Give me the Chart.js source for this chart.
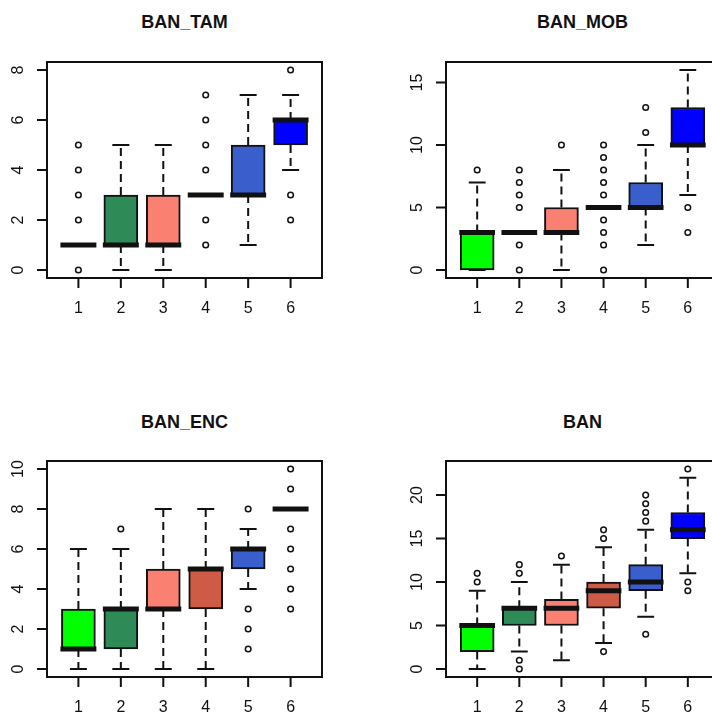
<!DOCTYPE html>
<html>
<head>
<meta charset="utf-8">
<script src="https://cdn.jsdelivr.net/npm/chart.js@4"></script>
<style>
  html, body { margin: 0; padding: 0; background: #fff; overflow: hidden; }
  body { width: 712px; height: 719px; position: relative; }
  canvas { position: absolute; }
  .title {
    position: absolute; text-align: center; color: #111;
    font: bold 18px "Liberation Sans", Arial, sans-serif; line-height: 20px;
  }
</style>
</head>
<body>
<div class="title" style="left:47px;top:12px;width:275px">BAN_TAM</div>
<div class="title" style="left:446px;top:12px;width:273px">BAN_MOB</div>
<div class="title" style="left:47px;top:412px;width:275px">BAN_ENC</div>
<div class="title" style="left:446px;top:412px;width:273px">BAN</div>
<canvas id="tam" width="360" height="360" style="left:0;top:0"></canvas>
<canvas id="mob" width="360" height="360" style="left:399px;top:0"></canvas>
<canvas id="enc" width="360" height="360" style="left:0;top:399px"></canvas>
<canvas id="ban" width="360" height="360" style="left:399px;top:399px"></canvas>
<script>
// groups and box colours (same in every panel)
const groups = ['1', '2', '3', '4', '5', '6'];
const boxColors = ['#00FF00', '#2E8B57', '#FA8072', '#CD5B45', '#3A5FCD', '#0000FF'];

// BAN_TAM
const tamLow  = [1, 0, 0, 3, 1, 4];
const tamQ1   = [1, 1, 1, 3, 3, 5];
const tamMed  = [1, 1, 1, 3, 3, 6];
const tamQ3   = [1, 3, 3, 3, 5, 6];
const tamHigh = [1, 5, 5, 3, 7, 7];
const tamOut  = [[0, 2, 3, 4, 5], [], [], [1, 2, 4, 5, 6, 7], [], [2, 3, 8]];
const tamTicks = [0, 2, 4, 6, 8];

// BAN_MOB
const mobLow  = [0, 3, 0, 5, 2, 6];
const mobQ1   = [0, 3, 3, 5, 5, 10];
const mobMed  = [3, 3, 3, 5, 5, 10];
const mobQ3   = [3, 3, 5, 5, 7, 13];
const mobHigh = [7, 3, 8, 5, 10, 16];
const mobOut  = [[8], [0, 2, 5, 6, 7, 8], [10], [0, 2, 3, 4, 6, 7, 8, 9, 10], [11, 13], [3, 5]];
const mobTicks = [0, 5, 10, 15];

// BAN_ENC
const encLow  = [0, 0, 0, 0, 4, 8];
const encQ1   = [1, 1, 3, 3, 5, 8];
const encMed  = [1, 3, 3, 5, 6, 8];
const encQ3   = [3, 3, 5, 5, 6, 8];
const encHigh = [6, 6, 8, 8, 7, 8];
const encOut  = [[], [7], [], [], [1, 2, 3, 8], [3, 4, 5, 6, 7, 9, 10]];
const encTicks = [0, 2, 4, 6, 8, 10];

// BAN
const banLow  = [0, 2, 1, 3, 6, 11];
const banQ1   = [2, 5, 5, 7, 9, 15];
const banMed  = [5, 7, 7, 9, 10, 16];
const banQ3   = [5, 7, 8, 10, 12, 18];
const banHigh = [9, 10, 12, 14, 16, 22];
const banOut  = [[10, 11], [0, 1, 11, 12], [13], [2, 15, 16], [4, 17, 18, 19, 20], [9, 10, 23]];
const banTicks = [0, 5, 10, 15, 20];

const INK = '#111';
const FONT = '16px "Liberation Sans", Arial, sans-serif';

// whiskers, staples, medians and the R style axes
function boxPlugin(st) {
  return {
    id: 'rbox',
    afterDatasetDraw(chart, args) {
      if (args.index !== 0) return;
      const { ctx, scales: { x, y } } = chart;
      const half = (x.getPixelForValue(1.4) - x.getPixelForValue(1));
      ctx.save();
      ctx.strokeStyle = INK;
      groups.forEach((g, i) => {
        const px = x.getPixelForValue(i + 1);
        // whiskers
        ctx.lineWidth = 2;
        ctx.setLineDash([8, 5]);
        ctx.beginPath();
        ctx.moveTo(px, y.getPixelForValue(st.q1[i]));
        ctx.lineTo(px, y.getPixelForValue(st.low[i]));
        ctx.moveTo(px, y.getPixelForValue(st.q3[i]));
        ctx.lineTo(px, y.getPixelForValue(st.high[i]));
        ctx.stroke();
        // staples
        ctx.setLineDash([]);
        ctx.beginPath();
        [st.low[i], st.high[i]].forEach(v => {
          const py = y.getPixelForValue(v);
          ctx.moveTo(px - half / 2, py);
          ctx.lineTo(px + half / 2, py);
        });
        ctx.stroke();
        // median
        ctx.lineWidth = 5;
        ctx.beginPath();
        const pm = y.getPixelForValue(st.med[i]);
        ctx.moveTo(px - half - 1, pm);
        ctx.lineTo(px + half + 1, pm);
        ctx.stroke();
      });
      ctx.restore();
    },
    afterDraw(chart) {
      const { ctx, chartArea: a, scales: { x, y } } = chart;
      ctx.save();
      ctx.strokeStyle = INK;
      ctx.fillStyle = INK;
      ctx.lineWidth = 2;
      ctx.strokeRect(a.left, a.top, a.right - a.left, a.bottom - a.top);
      ctx.font = FONT;
      ctx.textAlign = 'center';
      ctx.textBaseline = 'middle';
      ctx.beginPath();
      groups.forEach((g, i) => {
        const px = x.getPixelForValue(i + 1);
        ctx.moveTo(px, a.bottom);
        ctx.lineTo(px, a.bottom + 10);
        ctx.fillText(g, px, a.bottom + 31);
      });
      st.ticks.forEach(t => {
        const py = y.getPixelForValue(t);
        ctx.moveTo(a.left - 10, py);
        ctx.lineTo(a.left, py);
      });
      ctx.stroke();
      st.ticks.forEach(t => {
        const py = y.getPixelForValue(t);
        ctx.save();
        ctx.translate(a.left - 28, py);
        ctx.rotate(-Math.PI / 2);
        ctx.fillText(String(t), 0, 0);
        ctx.restore();
      });
      ctx.restore();
    }
  };
}

function makePanel(id, st, padRight) {
  const all = st.low.concat(st.high, ...st.out);
  const lo = Math.min(...all), hi = Math.max(...all);
  const ext = (hi - lo) * 0.04;
  new Chart(document.getElementById(id), {
    type: 'bar',
    data: {
      datasets: [{
        data: groups.map((g, i) => ({ x: i + 1, y: [st.q1[i], st.q3[i]] })),
        backgroundColor: boxColors,
        borderColor: INK,
        borderWidth: 2,
        borderSkipped: false,
        barThickness: 34
      }, {
        type: 'scatter',
        data: st.out.flatMap((vals, i) => vals.map(v => ({ x: i + 1, y: v }))),
        pointRadius: 2.8,
        pointBorderWidth: 1.5,
        borderColor: INK,
        backgroundColor: 'rgba(0,0,0,0)'
      }]
    },
    options: {
      responsive: false,
      animation: false,
      devicePixelRatio: 1,
      layout: { padding: { left: 47, top: 62, right: padRight, bottom: 82 } },
      plugins: { legend: { display: false }, tooltip: { enabled: false } },
      scales: {
        x: { type: 'linear', min: 0.26, max: 6.74, offset: false, display: false },
        y: { type: 'linear', min: lo - ext, max: hi + ext, display: false }
      }
    },
    plugins: [boxPlugin(st)]
  });
}

makePanel('tam', { low: tamLow, q1: tamQ1, med: tamMed, q3: tamQ3, high: tamHigh, out: tamOut, ticks: tamTicks }, 38);
makePanel('mob', { low: mobLow, q1: mobQ1, med: mobMed, q3: mobQ3, high: mobHigh, out: mobOut, ticks: mobTicks }, 40);
makePanel('enc', { low: encLow, q1: encQ1, med: encMed, q3: encQ3, high: encHigh, out: encOut, ticks: encTicks }, 38);
makePanel('ban', { low: banLow, q1: banQ1, med: banMed, q3: banQ3, high: banHigh, out: banOut, ticks: banTicks }, 40);
</script>
</body>
</html>
